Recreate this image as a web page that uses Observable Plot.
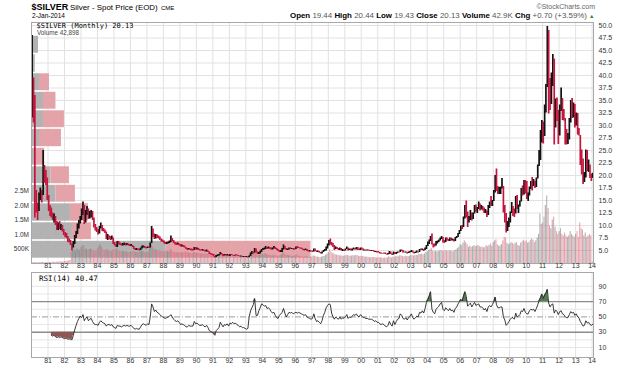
<!DOCTYPE html>
<html><head><meta charset="utf-8">
<script src="https://cdn.jsdelivr.net/npm/d3@7"></script>
<script src="https://cdn.jsdelivr.net/npm/@observablehq/plot@0.6"></script>
<style>
body{margin:0;background:#fff;}
#wrap{position:relative;width:624px;height:370px;overflow:hidden;}
#wrap svg{position:absolute;left:0;top:0;background:transparent !important;}
</style></head><body>
<div id="wrap">
<svg id="hdr" width="624" height="370" style="z-index:10" font-family="Liberation Sans, Arial, sans-serif">
 <text x="31.5" y="10.3" font-size="9" font-weight="bold">$SILVER</text>
 <text x="70" y="10" font-size="7.9">Silver - Spot Price (EOD)</text>
 <text x="161" y="10" font-size="6">CME</text>
 <text x="32" y="17.8" font-size="7.5" textLength="33" lengthAdjust="spacingAndGlyphs">2-Jan-2014</text>
 <text x="595" y="9" text-anchor="end" font-size="7" fill="#666">©StockCharts.com</text>
 <text x="290" y="18" font-size="7.5" textLength="297" lengthAdjust="spacingAndGlyphs"><tspan font-weight="bold">Open</tspan> <tspan fill="#555">19.44</tspan> <tspan font-weight="bold">High</tspan> <tspan fill="#555">20.44</tspan> <tspan font-weight="bold">Low</tspan> <tspan fill="#555">19.43</tspan> <tspan font-weight="bold">Close</tspan> <tspan fill="#555">20.13</tspan> <tspan font-weight="bold">Volume</tspan> <tspan fill="#555">42.9K</tspan> <tspan font-weight="bold">Chg</tspan> <tspan fill="#555">+0.70 (+3.59%)</tspan></text>
 <text x="589" y="17.5" font-size="5.5" fill="#2a8a2a">▲</text>
 <text x="36.5" y="27.6" font-family="DejaVu Sans Mono" font-size="7">$SILVER (Monthly) 20.13</text>
 <text x="37" y="34.6" font-size="6.3" fill="#444">Volume 42,898</text>
 <text x="39" y="281" font-family="DejaVu Sans Mono" font-size="7.5">RSI(14) 40.47</text>
</svg>
</div>
<script>
// ---- monthly data, Jan 1980 .. Jan 2014 ----
const cl = [
34.5,33.0,15.5,14.0,13.0,16.0,16.5,16.0,21.5,19.5,19.0,15.5,
13.5,12.5,12.0,11.5,11.8,10.5,9.3,9.8,9.6,9.7,9.0,8.4,
8.2,7.7,7.0,6.9,6.3,5.7,6.4,7.6,8.3,9.6,10.4,11.2,
12.4,14.3,10.6,12.4,13.3,11.6,12.3,12.6,11.4,9.9,9.3,9.1,
8.4,9.5,10.0,9.2,9.0,8.7,7.4,7.7,7.6,7.4,7.5,6.4,
6.2,5.8,6.6,6.4,6.2,6.1,6.2,6.3,6.1,6.2,6.1,5.9,
6.0,5.7,5.3,5.1,5.2,5.1,5.05,5.3,5.6,5.7,5.5,5.4,
5.6,5.5,6.4,8.6,8.3,7.4,7.9,7.6,7.55,7.3,6.9,6.8,
6.4,6.3,6.4,6.5,6.7,7.2,6.9,6.6,6.3,6.2,6.3,6.1,
5.8,5.9,5.8,5.6,5.3,5.2,5.3,5.1,5.05,5.0,5.5,5.2,
5.3,5.1,5.0,4.95,5.1,4.9,4.8,4.9,4.7,4.3,4.2,4.17,
3.8,3.6,3.9,4.0,4.1,4.4,4.2,3.9,4.1,4.0,4.1,3.9,
4.1,4.05,4.0,3.9,4.0,3.98,3.9,3.8,3.82,3.7,3.72,3.68,
3.70,3.6,3.8,4.3,4.5,4.45,5.2,4.6,4.3,4.4,4.7,5.1,
5.2,5.3,5.6,5.3,5.4,5.3,5.2,5.3,5.6,5.3,5.1,4.9,
4.8,4.9,5.2,5.6,5.3,5.1,5.2,5.4,5.3,5.33,5.2,5.22,
5.6,5.55,5.5,5.4,5.3,5.1,5.0,5.2,4.9,4.8,4.9,4.8,
4.7,5.2,4.9,4.7,4.8,4.6,4.4,4.6,4.9,5.0,5.5,6.0,
6.6,6.4,6.0,5.9,5.3,5.5,5.3,5.1,5.4,5.0,5.1,5.0,
5.2,5.5,5.0,5.2,5.0,5.2,5.4,5.2,5.5,5.2,5.1,5.4,
5.2,5.0,5.02,4.98,5.0,4.9,4.88,4.92,4.85,4.7,4.72,4.6,
4.55,4.4,4.3,4.4,4.38,4.3,4.2,4.3,4.7,4.3,4.1,4.6,
4.2,4.5,4.6,4.58,5.0,4.9,4.6,4.5,4.6,4.4,4.6,4.7,
4.9,4.6,4.4,4.5,4.7,4.6,5.1,5.05,5.2,5.0,5.3,5.9,
6.3,6.8,7.5,6.2,6.1,5.9,6.6,6.8,7.0,7.3,7.5,6.8,
6.6,7.4,7.1,6.9,7.4,7.0,7.2,6.8,7.5,7.7,8.3,8.8,
9.8,9.6,11.5,13.5,12.8,10.8,11.3,12.4,11.5,12.3,13.9,12.9,
13.4,14.2,13.3,13.4,13.2,12.4,12.9,12.0,13.9,14.4,14.1,14.8,
16.7,19.9,17.2,16.5,16.9,17.5,17.7,13.6,12.6,9.8,10.2,11.3,
12.4,13.2,13.1,12.4,15.6,13.6,13.9,14.8,16.6,16.2,18.4,16.8,
16.2,16.25,17.5,18.6,18.4,18.7,18.0,19.4,21.8,24.3,27.0,30.6,
27.9,33.9,37.9,48.6,38.3,34.8,40.0,41.6,30.1,34.6,32.6,28.2,
33.2,34.6,32.4,31.2,28.2,27.4,27.5,31.3,34.6,32.3,33.6,30.0,
31.8,28.5,28.3,24.1,22.2,19.7,19.8,23.6,21.7,21.9,19.5,19.43,
20.13];
const hi = [
48.0,39.5,36.0,17.0,14.5,16.5,17.5,17.0,25.0,22.0,21.0,19.5,
16.0,14.0,13.5,12.5,12.3,11.8,10.8,10.5,10.8,10.2,10.0,9.2,
8.6,8.4,7.8,7.3,7.0,6.3,6.8,8.0,8.8,10.3,11.0,11.8,
13.3,14.7,14.0,13.0,13.8,13.3,12.8,13.0,12.8,11.5,10.2,9.6,
9.2,9.8,10.5,10.0,9.4,9.1,8.7,8.2,7.9,7.8,7.9,7.5,
6.6,6.2,6.8,6.8,6.5,6.3,6.4,6.5,6.4,6.4,6.3,6.2,
6.2,6.0,5.8,5.4,5.4,5.3,5.3,5.5,5.9,5.9,5.8,5.6,
5.7,5.7,6.5,9.8,9.3,8.3,8.2,8.1,7.9,7.7,7.3,7.1,
6.9,6.6,6.6,6.7,6.9,7.9,7.4,7.0,6.6,6.5,6.5,6.3,
6.2,6.1,6.0,5.9,5.6,5.4,5.4,5.3,5.3,5.2,5.6,5.6,
5.5,5.4,5.2,5.1,5.2,5.1,5.0,5.1,4.9,4.7,4.4,4.3,
4.2,3.8,4.0,4.1,4.2,4.6,4.4,4.2,4.2,4.2,4.2,4.1,
4.2,4.2,4.1,4.0,4.1,4.1,4.0,3.9,3.9,3.8,3.8,3.8,
3.8,3.7,3.9,4.5,4.8,4.7,5.4,5.3,4.7,4.6,4.9,5.2,
5.4,5.5,5.8,5.6,5.7,5.6,5.5,5.5,5.8,5.6,5.4,5.2,
5.0,5.0,5.4,6.1,5.8,5.4,5.3,5.5,5.5,5.4,5.4,5.3,
5.7,5.8,5.6,5.5,5.5,5.3,5.2,5.3,5.2,5.0,5.0,4.9,
4.9,5.3,5.3,4.9,4.9,4.8,4.6,4.7,5.0,5.2,5.7,6.3,
7.0,7.3,6.6,6.4,6.0,5.7,5.6,5.4,5.5,5.4,5.2,5.1,
5.3,5.7,5.5,5.3,5.3,5.3,5.5,5.4,5.6,5.6,5.3,5.5,
5.5,5.3,5.1,5.1,5.1,5.1,5.0,5.0,5.0,4.9,4.8,4.8,
4.8,4.6,4.5,4.4,4.5,4.5,4.3,4.4,4.8,4.7,4.3,4.7,
4.6,4.6,4.7,4.7,5.1,5.1,5.0,4.7,4.7,4.6,4.7,4.8,
5.0,4.9,4.6,4.7,4.9,4.7,5.2,5.3,5.3,5.2,5.5,6.0,
6.7,7.1,7.8,8.3,6.3,6.3,6.8,6.9,7.1,7.5,7.8,7.6,
7.0,7.5,7.5,7.2,7.5,7.5,7.3,7.2,7.6,7.8,8.4,9.0,
9.9,10.0,11.7,14.0,14.9,12.7,11.8,13.0,12.5,12.5,14.0,14.1,
13.6,14.7,14.3,14.0,13.8,13.5,13.2,12.9,14.0,14.7,15.8,15.0,
17.0,20.0,21.3,17.8,17.6,17.7,19.4,17.8,14.0,12.4,10.8,11.5,
12.7,14.6,13.8,13.3,15.8,16.0,14.1,14.9,17.4,17.9,19.0,19.0,
18.8,16.5,17.7,18.8,19.6,19.2,18.8,19.5,22.1,25.0,29.0,31.0,
30.7,34.1,38.2,49.8,49.0,39.4,40.5,44.2,43.3,35.3,35.5,33.0,
34.1,37.5,35.4,33.2,31.4,29.2,28.4,31.4,35.0,35.4,34.5,34.2,
32.5,32.4,29.4,28.0,25.1,23.3,20.6,25.1,25.0,23.1,22.1,20.3,
20.44];
const lo = [
31.5,30.5,11.5,12.5,11.0,12.8,15.0,14.5,16.0,18.5,18.0,15.0,
12.8,11.8,11.5,11.0,10.5,10.0,9.0,9.0,9.2,9.0,8.7,8.0,
7.6,7.4,6.6,6.5,6.0,4.9,5.5,6.2,7.4,8.2,9.3,10.3,
11.0,12.0,10.2,10.5,12.0,11.2,11.3,11.5,11.0,9.5,8.9,8.6,
8.1,8.3,9.3,8.8,8.7,8.4,7.2,7.0,7.2,7.0,7.1,6.2,
5.9,5.6,5.6,6.1,6.0,5.9,5.9,6.0,5.9,6.0,5.9,5.8,
5.8,5.6,5.2,5.0,5.0,5.0,4.9,5.0,5.3,5.5,5.4,5.3,
5.4,5.4,5.5,6.4,7.6,7.2,7.3,7.4,7.3,7.0,6.7,6.6,
6.3,6.2,6.2,6.3,6.4,6.6,6.7,6.4,6.1,6.0,6.1,5.9,
5.7,5.7,5.6,5.5,5.2,5.0,5.1,5.0,4.9,4.9,5.0,5.1,
5.1,5.0,4.9,4.9,4.9,4.8,4.7,4.7,4.6,4.2,4.1,4.0,
3.7,3.5,3.6,3.8,3.9,4.1,4.1,3.8,3.9,3.9,3.9,3.8,
3.8,4.0,3.9,3.8,3.9,3.9,3.8,3.7,3.7,3.6,3.6,3.6,
3.6,3.5,3.6,3.8,4.2,4.3,4.5,4.5,4.2,4.2,4.3,4.6,
5.0,5.1,5.2,5.2,5.3,5.2,5.1,5.1,5.3,5.2,5.0,4.8,
4.6,4.6,4.6,5.1,5.2,5.0,5.0,5.1,5.2,5.2,5.1,5.1,
5.2,5.4,5.4,5.3,5.2,5.0,4.9,5.0,4.8,4.7,4.7,4.7,
4.6,4.7,4.8,4.6,4.6,4.5,4.3,4.3,4.6,4.8,4.9,5.3,
5.9,6.1,5.9,5.6,5.0,5.2,5.2,5.0,5.0,4.9,4.8,4.8,
4.9,5.2,4.9,5.0,4.9,4.9,5.1,5.1,5.1,5.0,5.0,5.0,
5.1,4.9,4.9,4.9,4.9,4.9,4.8,4.8,4.8,4.6,4.6,4.5,
4.5,4.3,4.3,4.3,4.3,4.2,4.1,4.1,4.2,4.2,4.0,4.1,
4.2,4.2,4.4,4.5,4.6,4.8,4.5,4.5,4.5,4.3,4.4,4.5,
4.6,4.5,4.3,4.4,4.5,4.5,4.6,5.0,5.0,4.8,5.0,5.2,
5.8,6.2,6.8,6.1,5.5,5.7,5.9,6.3,6.6,6.9,7.2,6.5,
6.4,6.6,6.9,6.8,6.8,6.9,6.9,6.7,6.8,7.4,7.6,8.2,
8.8,9.2,9.6,11.3,11.5,9.6,10.5,11.0,10.9,11.2,12.3,12.7,
12.4,13.2,12.9,13.1,12.9,12.4,12.4,11.6,12.0,13.4,13.8,13.8,
14.8,16.5,16.8,16.2,16.2,16.2,17.3,12.5,10.5,8.5,8.8,9.6,
10.5,12.4,11.8,11.6,12.3,13.2,12.4,13.7,14.7,15.9,16.1,16.3,
15.2,14.8,15.9,17.2,16.9,17.8,17.4,17.6,19.3,21.8,23.0,26.5,
26.3,27.8,32.5,37.6,32.3,33.0,34.2,37.8,26.1,29.5,30.8,26.2,
27.9,32.8,31.0,30.9,26.1,26.1,26.2,27.1,30.5,31.4,31.5,29.5,
29.9,28.1,27.9,22.0,20.1,18.2,18.6,19.5,20.8,20.6,19.4,18.8,
19.43];
// volume, thousands
const vol = [
20,25,40,30,25,25,30,30,35,30,30,30,
30,35,35,40,40,40,45,45,50,50,55,60,
70,75,80,90,100,380,450,480,420,500,470,450,
550,620,600,480,500,450,480,500,470,450,430,440,
520,600,650,560,480,450,470,480,430,440,420,450,
480,470,500,450,420,400,420,410,390,400,380,380,
400,380,420,400,380,370,360,400,430,410,380,370,
400,380,500,650,580,500,480,450,430,450,420,400,
420,400,420,410,400,480,430,400,380,370,380,360,
380,370,360,380,390,370,360,350,340,350,380,360,
360,350,340,330,340,320,320,330,310,340,320,300,
320,330,300,290,300,330,310,290,280,270,280,260,
270,260,250,240,250,240,230,220,230,220,210,200,
210,220,260,330,350,320,380,350,300,280,290,300,
320,300,340,300,290,280,270,260,290,270,260,250,
260,270,300,380,320,290,280,270,260,250,240,250,
280,300,260,250,240,230,220,230,240,220,210,220,
230,260,250,230,220,210,200,220,240,250,290,320,
380,480,400,350,330,300,290,280,270,260,260,250,
260,280,270,260,250,260,270,260,280,270,250,240,
250,240,230,220,220,210,200,210,200,210,200,190,
200,190,200,190,180,190,180,190,230,210,190,220,
220,230,240,230,270,260,240,230,250,230,240,250,
280,270,260,270,280,270,320,310,320,300,330,380,
400,450,480,520,430,400,420,400,420,430,450,420,
420,450,430,420,440,430,420,410,450,470,520,560,
650,620,700,780,720,650,560,600,560,580,620,580,
600,620,580,560,560,540,560,620,580,620,680,600,
720,780,820,650,600,600,650,780,900,880,700,650,
680,720,700,650,700,720,620,600,700,750,800,750,
780,700,720,800,850,800,720,780,880,1000,1700,1350,
1400,1600,2000,2330,1900,1300,1200,1500,1600,1250,1100,1000,
1100,1200,1000,950,1050,950,900,950,1100,1000,950,900,
1000,1100,900,1400,1200,1150,950,1050,900,950,1000,950,
43];
// RSI(14), from Mar 1981 to Jan 2014
const rsiStart = 14;
const rsi = [
26,25,26,24,23,24,23,24,23,22,
22,22,21,21,21,20,26,33,39,44,48,51,
49,53,45,48,50,45,47,48,44,41,40,40,
39,43,45,43,42,41,38,40,40,39,40,37,
36,35,39,38,38,37,38,39,38,39,38,38,
39,37,35,34,35,34,34,37,40,41,40,39,
41,40,50,67,63,57,59,56,55,53,51,50,
49,48,49,50,51,53,50,47,45,44,45,43,
40,41,40,39,37,37,39,38,38,38,44,41,
42,40,39,39,40,38,37,39,36,32,31,30,
28,26,32,34,36,43,40,37,40,39,41,38,
42,41,43,41,42,40,39,37,38,36,36,35,
34,35,50,58,62,66,74,52,52,58,62,67,
66,64,65,61,62,60,57,55,56,52,49,48,
52,54,56,61,55,50,53,56,55,56,54,55,
56,55,56,55,54,53,52,53,50,49,48,47,
48,54,48,44,45,43,41,45,52,56,62,65,
67,66,55,50,47,50,48,47,50,47,49,48,
50,53,48,50,49,51,53,52,54,51,50,53,
51,49,49,48,48,47,47,47,46,44,45,43,
43,41,40,41,40,38,37,39,44,40,38,45,
40,44,47,48,54,52,48,47,49,46,49,51,
54,49,47,49,51,50,56,55,58,55,61,69,
73,77,83,60,56,54,60,62,64,67,69,60,
58,62,60,58,61,58,59,56,61,63,67,70,
73,71,77,83,77,64,66,68,63,66,69,65,
66,67,63,63,62,59,61,57,63,65,63,66,
70,76,66,62,62,63,63,50,46,39,41,44,
47,49,49,47,55,50,51,53,58,57,61,56,
54,54,58,60,59,60,57,61,66,71,75,80,
74,79,81,86,68,63,66,67,55,59,57,53,
57,58,54,53,50,49,49,53,57,55,56,52,
54,50,49,44,41,38,39,45,42,43,40,39,
40.47];
// volume-by-price bins (price edges, bottom -> top) and volume (millions)
const vbpEdges = [3.3,7.0,10.7,14.5,18.2,21.9,25.6,29.4,33.1,36.8,40.5,44.3,48.0];
const vbpDown = [27,8.2,7.8,4.9,3.9,0.75,1.6,2.4,2.4,1.6,0.75,1.4];
const vbpUp   = [29,3.8,3.6,3.9,3.7,1.9,4.4,4.2,2.5,2.0,0,0];
// tick labels
const yearLabels = d3.range(1981, 2015);
const priceTicks = d3.range(5, 50.01, 2.5);
const volTicks = [500000, 1000000, 1500000, 2000000, 2500000];
const rsiTicks = [10, 30, 50, 70, 90];
const rsiGrid = [10, 20, 40, 60, 80, 90];

// ---- build tables ----
const N = cl.length;
const bars = d3.range(N).map(i => ({
  d: new Date(1980, i, 15), d0: new Date(1980, i, 1), d1: new Date(1980, i + 1, 1),
  lo: lo[i], hi: hi[i], v: vol[i] * 1000, up: i === 0 || cl[i] >= cl[i - 1]
}));
const rsiData = rsi.map((v, k) => ({d: new Date(1980, k + rsiStart, 15), v}));
const bins = vbpDown.map((dn, k) => ({lo: vbpEdges[k], hi: vbpEdges[k + 1], down: dn, up: vbpUp[k]}));
const yearDates = yearLabels.map(y => new Date(y, 0, 1));

const RED = "#c8143c", BLK = "#111111";
const FONT = "Liberation Sans, Arial, sans-serif";
const W = 624, ML = 31, MR = 31;
const xDom = [new Date(1980, 0, 1), new Date(2014, 1, 1)];
const priceDom = [2.4, 50.6];
const mainOpts = {width: W, height: 272, marginLeft: ML, marginRight: MR, marginTop: 22, marginBottom: 9,
  style: {background: "transparent", fontFamily: FONT, fontSize: "7px", overflow: "visible"}};
const wrap = document.getElementById("wrap");
const hdr = document.getElementById("hdr");
function add(svg, top) {
  svg.style.top = top + "px";
  svg.style.background = "transparent";
  wrap.insertBefore(svg, hdr);
}

// 1. grid
add(Plot.plot({...mainOpts,
  x: {domain: xDom, axis: null}, y: {domain: priceDom, axis: null},
  marks: [
    Plot.ruleX(yearDates, {x: d => d, stroke: "#e2e2e2"}),
    Plot.ruleY(priceTicks, {y: d => d, stroke: "#e2e2e2"})
  ]}), 0);

// 2. volume by price
add(Plot.plot({...mainOpts,
  x: {domain: [0, 112.6], axis: null}, y: {domain: priceDom, axis: null},
  marks: [
    Plot.rect(bins, {x1: d => 0, x2: d => d.down, y1: "lo", y2: "hi", fill: "#b2b2b2", insetTop: 0.8, insetBottom: 0.8}),
    Plot.rect(bins, {x1: d => d.down, x2: d => d.down + d.up, y1: "lo", y2: "hi", fill: "#e3a3a9", insetTop: 0.8, insetBottom: 0.8})
  ]}), 0);

// 3. volume histogram + left axis
add(Plot.plot({...mainOpts,
  x: {domain: xDom, axis: null}, y: {domain: [0, 8.31e6], axis: null},
  color: {type: "identity"},
  marks: [
    Plot.rect(bars, {x1: "d0", x2: "d1", y1: d => 0, y2: "v", fill: d => d.up ? "#808080" : "#dc6a7c", fillOpacity: 0.62, insetRight: 0.3}),
    Plot.text(volTicks, {y: d => d, text: d => d < 1e6 ? "500K" : (d / 1e6).toFixed(1) + "M",
      frameAnchor: "left", textAnchor: "end", dx: -2.5, fontSize: 6.5, fill: "#333"})
  ]}), 0);

// 4. price bars + right axis + x labels + frame
add(Plot.plot({...mainOpts,
  x: {domain: xDom, axis: null}, y: {domain: priceDom, axis: null},
  color: {type: "identity"},
  marks: [
    Plot.ruleX(bars, {x: "d", y1: "lo", y2: "hi", stroke: d => d.up ? BLK : RED, strokeWidth: 1.7}),
    Plot.frame({stroke: "#a8a8a8"}),
    Plot.text(priceTicks, {y: d => d, text: d => d.toFixed(1), frameAnchor: "right", textAnchor: "start", dx: 5, fontSize: 7, fill: "#333"}),
    Plot.text(yearLabels, {x: y => new Date(y, 0, 1), text: y => String(y % 100).padStart(2, "0"),
      frameAnchor: "bottom", dy: 4.5, fontSize: 7, fill: "#333"})
  ]}), 0);

// 5. RSI panel
add(Plot.plot({width: W, height: 100, marginLeft: ML, marginRight: MR, marginTop: 2, marginBottom: 13,
  style: {background: "transparent", fontFamily: FONT, fontSize: "7px", overflow: "visible"},
  x: {domain: xDom, axis: null}, y: {domain: [-3, 108], axis: null},
  marks: [
    Plot.ruleX(yearDates, {x: d => d, stroke: "#e2e2e2"}),
    Plot.ruleY(rsiGrid, {y: d => d, stroke: "#e6e6e6"}),
    Plot.ruleY([30, 70], {y: d => d, stroke: "#8c8c8c", strokeWidth: 1.3}),
    Plot.ruleY([50], {y: d => d, stroke: "#9a9a9a", strokeDasharray: "6,2,1,2"}),
    Plot.areaY(rsiData, {x: "d", y1: d => 30, y2: d => Math.min(d.v, 30), fill: "#8f5656"}),
    Plot.areaY(rsiData, {x: "d", y1: d => 70, y2: d => Math.max(d.v, 70), fill: "#4f7f4f"}),
    Plot.line(rsiData, {x: "d", y: "v", stroke: "#222", strokeWidth: 0.9}),
    Plot.frame({stroke: "#a8a8a8"}),
    Plot.text(rsiTicks, {y: d => d, text: d => String(d), frameAnchor: "right", textAnchor: "start", dx: 5, fontSize: 7, fill: "#333"}),
    Plot.text(yearLabels, {x: y => new Date(y, 0, 1), text: y => String(y % 100).padStart(2, "0"),
      frameAnchor: "bottom", dy: 5.5, fontSize: 7, fill: "#333"})
  ]}), 270);
</script>
</body></html>
